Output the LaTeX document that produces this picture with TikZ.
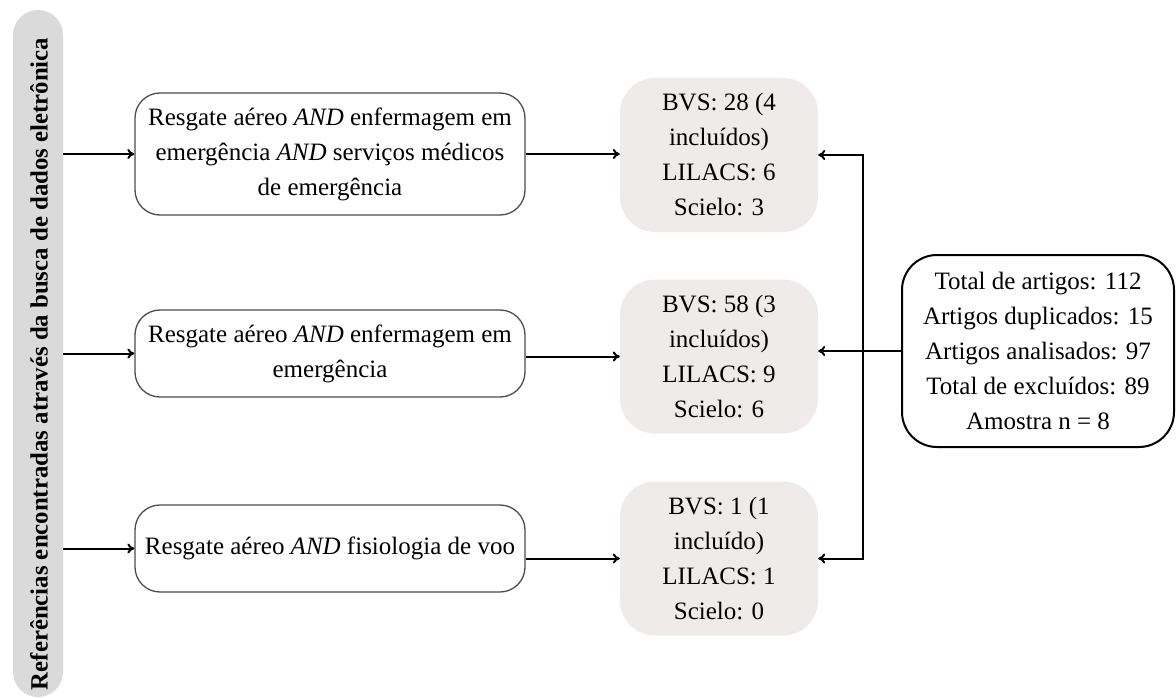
\documentclass[tikz,border=0pt]{standalone}
\usepackage{fontspec}
\setmainfont{Liberation Serif}
\usetikzlibrary{arrows.meta}
\definecolor{bargrey}{HTML}{DADADA}
\definecolor{boxgrey}{HTML}{EFEBEA}
\begin{document}
\begin{tikzpicture}[x=1pt,y=-1pt,
  txt/.style={font=\fontsize{25}{35}\selectfont, align=center, inner sep=0pt},
  wbox/.style={txt, draw=black!70, line width=1.3pt, rounded corners=25pt, fill=white, minimum width=390pt},
  gbox/.style={txt, fill=boxgrey, rounded corners=35pt, minimum width=198pt, minimum height=154pt},
  conn/.style={line width=2pt, -{To[length=7pt,width=10pt]}},
]
\useasboundingbox (0,0) rectangle (1176,698);
\node[fill=bargrey, rounded corners=25pt, minimum width=50pt, minimum height=687pt, inner sep=0pt] (bar) at (38,353.5) {};
\node[rotate=90, inner sep=0pt, font=\fontsize{24.8}{26}\selectfont\bfseries] (barlabel) at (39,364) {Referências encontradas através da busca de dados eletrônica};

\node[wbox, minimum height=122pt] (b1) at (330,154) {Resgate aéreo \textit{AND} enfermagem em\\emergência \textit{AND} serviços médicos\\de emergência};
\node[wbox, minimum height=87pt] (b2) at (330,353.5) {Resgate aéreo \textit{AND} enfermagem em\\emergência};
\node[wbox, minimum height=87pt] (b3) at (330,548.5) {Resgate aéreo \textit{AND} fisiologia de voo};

\node[gbox] (g1) at (719,155) {BVS: 28 (4\\incluídos)\\LILACS: 6\\Scielo: 3};
\node[gbox] (g2) at (719,356.5) {BVS: 58 (3\\incluídos)\\LILACS: 9\\Scielo: 6};
\node[gbox] (g3) at (719,558.5) {BVS: 1 (1\\incluído)\\LILACS: 1\\Scielo: 0};

\node[txt, draw=black, line width=2pt, rounded corners=35pt, minimum width=272pt, minimum height=192pt] (rb) at (1038,351) {Total de artigos: 112\\Artigos duplicados: 15\\Artigos analisados: 97\\Total de excluídos: 89\\Amostra n = 8};

\draw[conn] (bar.east |- b1.west) -- (b1.west);
\draw[conn] (bar.east |- b2.west) -- (b2.west);
\draw[conn] (bar.east |- b3.west) -- (b3.west);

\draw[conn] (b1.east) -- (b1.east -| g1.west);
\draw[conn] (b2.east |- g2.west) -- (g2.west);
\draw[conn] (b3.east |- g3.west) -- (g3.west);

\coordinate (j) at (863,351);
\draw[conn] (rb.west) -- (rb.west -| g2.east);
\draw[conn] (j) |- (g1.east);
\draw[conn] (j) |- (g3.east);
\end{tikzpicture}
\end{document}
